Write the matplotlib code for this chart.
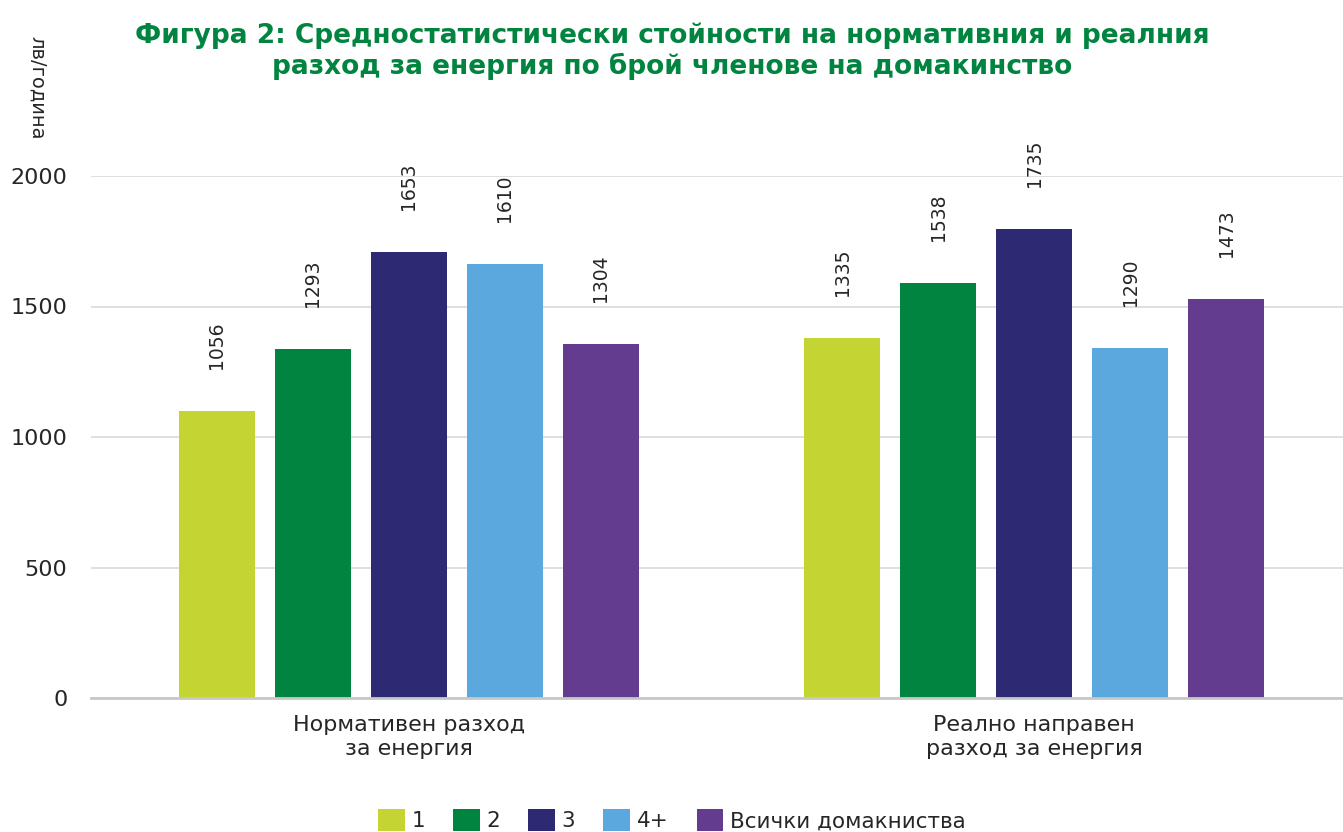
import matplotlib
matplotlib.use("Agg")
import matplotlib.pyplot as plt
import numpy as np

plt.rcParams['font.family'] = ['DejaVu Sans']

categories = ["Нормативен разход\nза енергия", "Реално направен\nразход за енергия"]
series_names = ["1", "2", "3", "4+", "Всички домакниства"]
colors = ["#C4D432", "#00843F", "#2D2A73", "#5AA8DE", "#633C8F"]
# bar heights as drawn in the picture
heights_norm = [1100, 1337, 1709, 1663, 1356]
heights_real = [1379, 1590, 1797, 1341, 1529]
# value labels as printed
labels_norm = [1056, 1293, 1653, 1610, 1304]
labels_real = [1335, 1538, 1735, 1290, 1473]
yticks = [0, 500, 1000, 1500, 2000]

title = ("Фигура 2: Средностатистически стойности на нормативния и реалния\n"
         "разход за енергия по брой членове на домакинство")
ylabel = "лв/година"

W, H = 1343, 832
fig = plt.figure(figsize=(W / 100, H / 100), dpi=100)
ax = fig.add_axes([91 / W, (H - 698) / H, (1343 - 91) / W, (698 - 176) / H])

text_color = "#262626"
x = np.arange(len(categories))
step = 0.1536
width = 0.1216
heights = [heights_norm, heights_real]
labels = [labels_norm, labels_real]
for i, name in enumerate(series_names):
    vals = [heights[0][i], heights[1][i]]
    pos = x + (i - 2) * step
    bars = ax.bar(pos, vals, width=width, color=colors[i], label=name, zorder=3)
    for b, lab in zip(bars, [labels[0][i], labels[1][i]]):
        ax.annotate(str(lab), (b.get_x() + b.get_width() / 2, b.get_height()),
                    xytext=(0, 30), textcoords="offset points", rotation=90,
                    ha="center", va="bottom", fontsize=13.5, color=text_color,
                    annotation_clip=False)

ax.set_xlim(-0.5088, 1.4944)
ax.set_ylim(0, 2000)
ax.set_yticks(yticks)
ax.set_yticklabels([str(t) for t in yticks], fontsize=16, color=text_color)
ax.set_xticks(x)
ax.set_xticklabels(categories, fontsize=16, color=text_color, linespacing=1.3)
ax.tick_params(axis="both", length=0)
ax.tick_params(axis="y", pad=17)
ax.tick_params(axis="x", pad=12)
ax.grid(axis="y", color="#d9d9d9", linewidth=1.2, zorder=0)
for s in ["top", "right", "left"]:
    ax.spines[s].set_visible(False)
ax.spines["bottom"].set_color("#c8c8c8")
ax.spines["bottom"].set_linewidth(2)
ax.spines["bottom"].set_zorder(4)

fig.text(672 / W, 1 - 51 / H, title, ha="center", va="center", fontsize=19,
         fontweight="bold", color="#00843F", linespacing=1.2)
fig.text(37 / W, 1 - 88 / H, ylabel, rotation=-90, ha="center", va="center",
         fontsize=14, color=text_color)

fig.legend(loc="center", bbox_to_anchor=(672 / W, (H - 820) / H), ncol=5,
           frameon=False, fontsize=15.5, handlelength=1.25, handleheight=1.25,
           handletextpad=0.3, columnspacing=1.3, borderpad=0,
           labelcolor=text_color)

fig.savefig("out.png", dpi=100)
